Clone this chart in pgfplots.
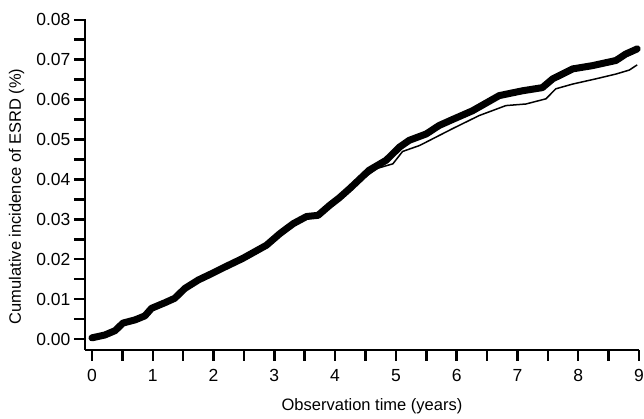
\documentclass[border=0pt]{standalone}
\usepackage{fontspec}
\setmainfont{Liberation Sans}
\usepackage{pgfplots}
\usepackage{pgfplotstable}
\pgfplotsset{compat=1.18}

% thick curve (upper) and thin curve
\pgfplotstableread{
x y
0.00 0.0003
0.21 0.0010
0.38 0.0021
0.51 0.0040
0.71 0.0048
0.87 0.0058
0.98 0.0077
1.20 0.0091
1.36 0.0102
1.53 0.0127
1.75 0.0148
1.97 0.0164
2.18 0.0180
2.48 0.0202
2.87 0.0235
3.09 0.0264
3.31 0.0289
3.53 0.0307
3.72 0.0310
3.91 0.0335
4.07 0.0354
4.24 0.0377
4.56 0.0423
4.84 0.0448
5.06 0.0481
5.22 0.0498
5.50 0.0514
5.71 0.0535
5.93 0.0550
6.26 0.0572
6.70 0.0610
7.08 0.0622
7.41 0.0630
7.58 0.0652
7.91 0.0677
8.23 0.0685
8.62 0.0698
8.78 0.0714
8.97 0.0727
}\thickdata
\pgfplotstableread{
x y
4.07 0.0354
4.24 0.0377
4.40 0.0396
4.70 0.0428
4.95 0.0439
5.11 0.0470
5.39 0.0485
5.66 0.0506
5.93 0.0527
6.37 0.0560
6.81 0.0585
7.14 0.0589
7.47 0.0602
7.63 0.0627
7.91 0.0639
8.29 0.0652
8.62 0.0664
8.84 0.0674
8.97 0.0687
}\thindata

\begin{document}
\begin{tikzpicture}
\begin{axis}[
    scale only axis,
    width=554pt, height=331pt,
    xmin=-0.115, xmax=9,
    ymin=-0.00275, ymax=0.0802,
    clip=false,
    axis x line*=bottom, axis y line*=left,
    axis line style={line width=2pt, -},
    tick align=outside,
    xtick={0,1,2,3,4,5,6,7,8,9},
    ytick={0,0.01,0.02,0.03,0.04,0.05,0.06,0.07,0.08},
    minor x tick num=1, minor y tick num=1,
    major tick length=11pt, minor tick length=11pt,
    every tick/.style={line width=2.5pt, black},
    scaled y ticks=false,
    /pgf/number format/assume math mode=true,
    tick label style={font=\fontsize{17.5}{21}\selectfont},
    label style={font=\fontsize{16.5}{19.8}\selectfont},
    xticklabel style={yshift=-8pt, inner sep=0.5pt},
    yticklabel style={/pgf/number format/fixed, /pgf/number format/fixed zerofill, /pgf/number format/precision=2},
    xlabel style={at={(axis description cs:0.518,0)}, anchor=center, yshift=-56pt},
    ylabel style={at={(axis description cs:-0.1234,0.464)}, anchor=center},
    xlabel={Observation time (years)},
    ylabel={Cumulative incidence of ESRD (\%)},
]
\addplot[black, line width=1.5pt] table[x=x, y=y] {\thindata};
\addplot[black, line width=7pt, line cap=round, line join=round] table[x=x, y=y] {\thickdata};
\end{axis}
\pgfresetboundingbox
\useasboundingbox (current axis.south west) ++(-85pt,-69pt) rectangle ++(644pt,419pt);
\end{tikzpicture}
\end{document}
